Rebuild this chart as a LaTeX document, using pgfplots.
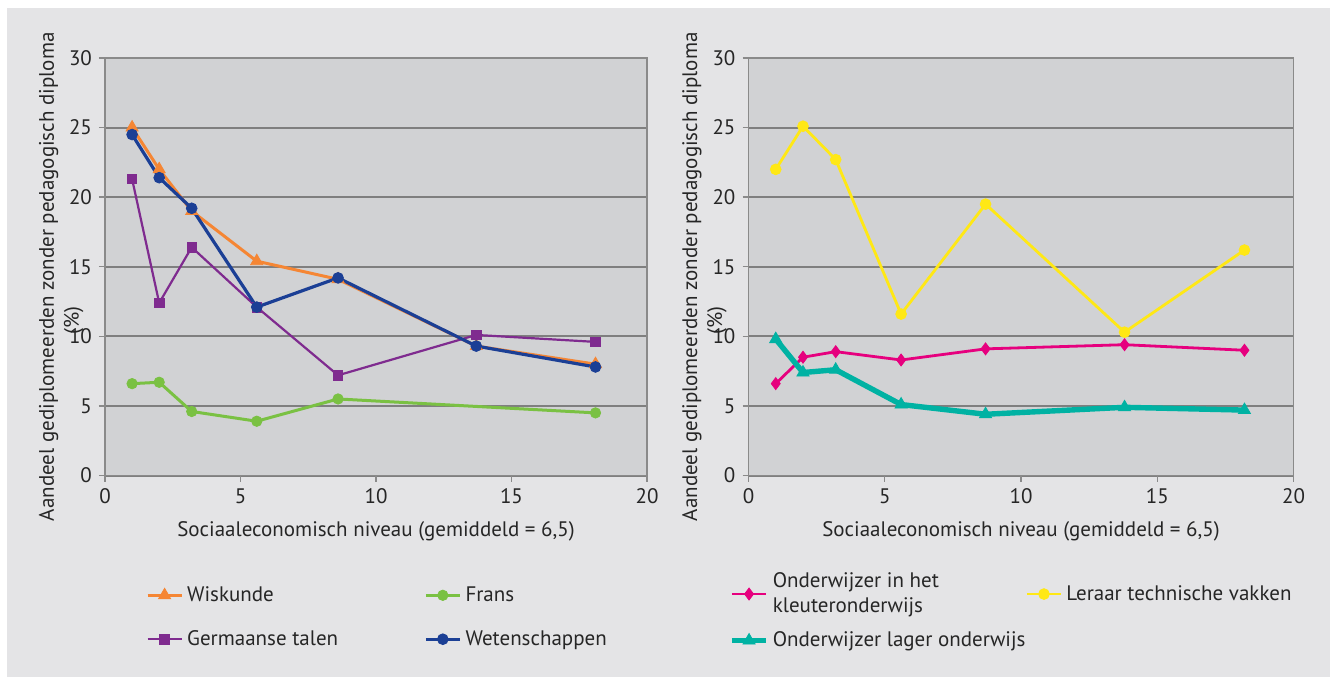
\documentclass[border=0pt]{standalone}
\usepackage{fontspec}
\setmainfont{PT Sans}
\usepackage{pgfplots}
\pgfplotsset{compat=1.18}
\definecolor{outerbg}{HTML}{E4E4E6}
\definecolor{plotbg}{HTML}{D1D2D4}
\definecolor{gridgray}{HTML}{7F7F7F}
\definecolor{axisgray}{HTML}{8A8A8A}
\definecolor{cOrange}{HTML}{F58634}
\definecolor{cGreen}{HTML}{7AC143}
\definecolor{cPurple}{HTML}{7F2B8F}
\definecolor{cBlue}{HTML}{1B3F95}
\definecolor{cMagenta}{HTML}{E6007E}
\definecolor{cYellow}{HTML}{FFE815}
\definecolor{cTeal}{HTML}{00B2A3}
\newcommand{\lblfont}{\fontsize{10.5}{12.5}\selectfont}
\pgfplotsset{
  myaxis/.style={
    scale only axis,
    height=208.75pt,
    xmin=0, xmax=20, ymin=0, ymax=30,
    xtick={0,5,...,20}, ytick={0,5,...,30},
    ymajorgrids,
    grid style={draw=gridgray, line width=1pt},
    axis background/.style={fill=plotbg},
    axis line style={draw=axisgray, line width=0.7pt},
    tick style={draw=axisgray, line width=0.7pt},
    tick align=outside,
    major tick length=3pt,
    xtick pos=bottom, ytick pos=left,
    tick label style={font=\lblfont, text=black!85},
    /pgf/number format/assume math mode=true,
    label style={font=\lblfont, text=black!85},
    xlabel={Sociaaleconomisch niveau (gemiddeld = 6,5)},
    xlabel style={at={(axis description cs:0.5,-0.134)}, anchor=center},
    ylabel={Aandeel gediplomeerden zonder pedagogisch diploma\\(\%)\hspace*{44pt}},
    ylabel style={at={(axis description cs:-0.081,0.476)}, anchor=center, rotate=0, align=center},
    legend cell align=left,
    legend style={draw=none, fill=none, font=\lblfont, text=black!85, inner sep=0pt,
      legend columns=2, nodes={align=left}},
  }
}
\begin{document}
\begin{tikzpicture}
\fill[white] (0,0) rectangle (665pt,338.5pt);
\fill[outerbg] (3.5pt,0) rectangle (665pt,334.5pt);
\begin{axis}[myaxis, width=271pt, at={(52.5pt,100.75pt)}, anchor=south west,
  legend style={at={(axis description cs:0.075,-0.255)}, anchor=north west, row sep=9pt,
    /tikz/every even column/.append style={column sep=41pt}}]
\addplot[color=cOrange, line width=1.5pt, mark=triangle*, mark size=3.5pt, mark options={solid, line width=0.4pt}]
  coordinates {(1.0,25.0) (2.0,22.0) (3.2,19.0) (5.6,15.4) (8.6,14.1) (13.7,9.3) (18.1,8.0)};
\addlegendentry{Wiskunde}
\addplot[color=cGreen, line width=1.5pt, mark=*, mark size=2.6pt, mark options={solid, line width=0.4pt}]
  coordinates {(1.0,6.6) (2.0,6.7) (3.2,4.6) (5.6,3.9) (8.6,5.5) (18.1,4.5)};
\addlegendentry{Frans}
\addplot[color=cPurple, line width=1.1pt, mark=square*, mark size=2.4pt, mark options={solid, line width=0.4pt}]
  coordinates {(1.0,21.3) (2.0,12.4) (3.2,16.4) (5.6,12.1) (8.6,7.2) (13.7,10.1) (18.1,9.6)};
\addlegendentry{Germaanse talen}
\addplot[color=cBlue, line width=1.6pt, mark=*, mark size=2.7pt, mark options={solid, line width=0.4pt}]
  coordinates {(1.0,24.5) (2.0,21.4) (3.2,19.2) (5.6,12.1) (8.6,14.2) (13.7,9.3) (18.1,7.8)};
\addlegendentry{Wetenschappen}
\end{axis}
\begin{axis}[myaxis, width=272.5pt, at={(374.25pt,100.75pt)}, anchor=south west,
  legend style={at={(axis description cs:-0.036,-0.222)}, anchor=north west, row sep=4pt,
    /tikz/every even column/.append style={column sep=-2pt}}]
\addplot[color=cMagenta, line width=1.4pt, mark=diamond*, mark size=3pt, mark options={solid, line width=0.4pt}]
  coordinates {(1.0,6.6) (2.0,8.5) (3.2,8.9) (5.6,8.3) (8.7,9.1) (13.8,9.4) (18.2,9.0)};
\addlegendentry{Onderwijzer in het\\kleuteronderwijs}
\addplot[color=cYellow, line width=1.4pt, mark=*, mark size=2.7pt, mark options={solid, line width=0.4pt}]
  coordinates {(1.0,22.0) (2.0,25.1) (3.2,22.7) (5.6,11.6) (8.7,19.5) (13.8,10.3) (18.2,16.2)};
\addlegendentry{Leraar technische vakken}
\addplot[color=cTeal, line width=2.7pt, mark=triangle*, mark size=3.5pt, mark options={solid, line width=0.4pt}]
  coordinates {(1.0,9.8) (2.0,7.4) (3.2,7.6) (5.6,5.1) (8.7,4.4) (13.8,4.9) (18.2,4.7)};
\addlegendentry{Onderwijzer lager onderwijs}
\end{axis}
\end{tikzpicture}
\end{document}
